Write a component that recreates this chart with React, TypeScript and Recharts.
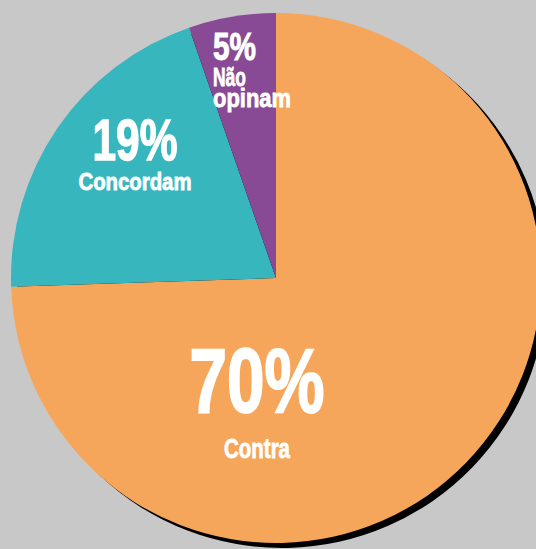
import { PieChart, Pie, Cell } from "recharts";

const NAMES = ["Contra", "Concordam", "Não opinam"];
const VALUES = [70, 19, 5];
const LABEL_LINES = [["Contra"], ["Concordam"], ["Não", "opinam"]];

const COLORS = ["#F6A65B", "#38B6BE", "#884A94"];
const BG = "#C8C8C8";
const FONT = "'Liberation Sans', Arial, sans-serif";

// label placement relative to the pie centre; widths squeeze the glyphs to look condensed
const LAYOUT = [
  {
    dx: -19,
    anchor: "middle",
    big: { dy: 134, size: 91, width: 135, weight: 2 },
    lines: [{ dy: 180, size: 28, width: 66, weight: 0.8 }],
  },
  {
    dx: -141,
    anchor: "middle",
    big: { dy: -118, size: 57, width: 85, weight: 1.4 },
    lines: [{ dy: -88, size: 24, width: 113, weight: 0.8 }],
  },
  {
    dx: -63,
    anchor: "start",
    big: { dy: -218, size: 39, width: 43, weight: 1 },
    lines: [
      { dy: -192, size: 25, width: 33, weight: 0.8 },
      { dy: -171, size: 25, width: 78, weight: 0.8 },
    ],
  },
];

const data = NAMES.map((name, i) => ({ name, value: VALUES[i] }));

const CX = 276;
const CY = 278;
const R = 265;

function renderLabel(props: any) {
  const { cx, cy, index, value } = props;
  const l = LAYOUT[index];
  const x = cx + l.dx;
  return (
    <g key={`lbl-${index}`}>
      <text
        x={x}
        y={cy + l.big.dy}
        textAnchor={l.anchor}
        fill="#fff"
        stroke="#fff"
        strokeWidth={l.big.weight}
        fontFamily={FONT}
        fontWeight={700}
        fontSize={l.big.size}
        textLength={l.big.width}
        lengthAdjust="spacingAndGlyphs"
      >
        {`${value}%`}
      </text>
      {LABEL_LINES[index].map((line, j) => (
        <text
          key={line}
          x={x}
          y={cy + l.lines[j].dy}
          textAnchor={l.anchor}
          fill="#fff"
          stroke="#fff"
          strokeWidth={l.lines[j].weight}
          fontFamily={FONT}
          fontWeight={700}
          fontSize={l.lines[j].size}
          textLength={l.lines[j].width}
          lengthAdjust="spacingAndGlyphs"
        >
          {line}
        </text>
      ))}
    </g>
  );
}

export default function App() {
  return (
    <div style={{ position: "absolute", left: 0, top: 0, width: 536, height: 549, background: BG }}>
      <PieChart width={536} height={549} margin={{ top: 0, right: 0, bottom: 0, left: 0 }}>
        {/* drop shadow */}
        <Pie
          data={data}
          dataKey="value"
          cx={CX + 6}
          cy={CY + 5}
          outerRadius={R}
          startAngle={90}
          endAngle={-270}
          stroke="none"
          fill="#000"
          isAnimationActive={false}
        />
        <Pie
          data={data}
          dataKey="value"
          cx={CX}
          cy={CY}
          outerRadius={R}
          startAngle={90}
          endAngle={-270}
          stroke="none"
          labelLine={false}
          label={renderLabel}
          isAnimationActive={false}
        >
          {data.map((d, i) => (
            <Cell key={d.name} fill={COLORS[i]} />
          ))}
        </Pie>
      </PieChart>
    </div>
  );
}
